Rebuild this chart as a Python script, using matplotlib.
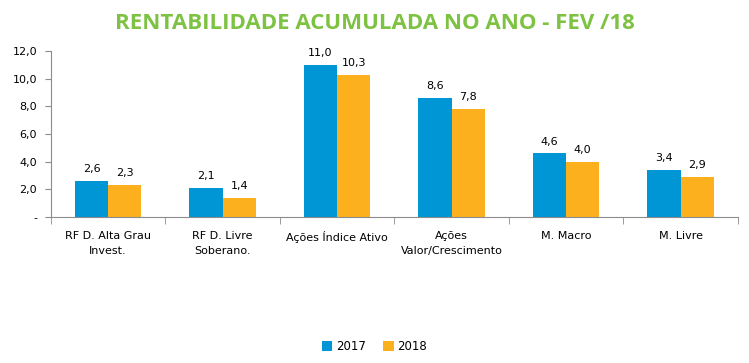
import matplotlib.pyplot as plt
import numpy as np

categorias = ['RF D. Alta Grau\nInvest.', 'RF D. Livre\nSoberano.', 'Ações Índice Ativo',
              'Ações\nValor/Crescimento', 'M. Macro', 'M. Livre']
v2017 = [2.6, 2.1, 11.0, 8.6, 4.6, 3.4]
v2018 = [2.3, 1.4, 10.3, 7.8, 4.0, 2.9]
yticks = [0, 2, 4, 6, 8, 10, 12]
ylabels = ['-', '2,0', '4,0', '6,0', '8,0', '10,0', '12,0']

azul = '#0096D6'
laranja = '#FDB01E'
cinza = '#8c8c8c'

fig = plt.figure(figsize=(7.49, 3.63), dpi=100)
ax = fig.add_axes([0.068, 0.402, 0.917, 0.457])

x = np.arange(len(categorias))
w = 0.29
ax.bar(x - w/2, v2017, w, color=azul, label='2017')
ax.bar(x + w/2, v2018, w, color=laranja, label='2018')

# rótulos de valor
for xi, a, b in zip(x, v2017, v2018):
    ax.text(xi - w/2, a + 0.5, f'{a:.1f}'.replace('.', ','), ha='center', va='bottom', fontsize=8)
    ax.text(xi + w/2, b + 0.5, f'{b:.1f}'.replace('.', ','), ha='center', va='bottom', fontsize=8)

ax.set_xlim(-0.5, len(categorias) - 0.5)
ax.set_ylim(0, 12)
ax.set_yticks(yticks)
ax.set_yticklabels(ylabels, fontsize=8)
ax.set_xticks(x)
ax.set_xticklabels(categorias, fontsize=8, linespacing=1.6)
ax.tick_params(axis='x', which='major', length=0, pad=10)
ax.set_xticks(np.arange(len(categorias) + 1) - 0.5, minor=True)
ax.tick_params(axis='x', which='minor', length=5, color=cinza)
ax.tick_params(axis='y', length=4, color=cinza, pad=6)

for s in ['top', 'right']:
    ax.spines[s].set_visible(False)
for s in ['left', 'bottom']:
    ax.spines[s].set_color(cinza)

fig.text(0.5, 0.935, 'RENTABILIDADE ACUMULADA NO ANO - FEV /18', ha='center', va='center',
         fontsize=16, fontweight='bold', color='#7DC242', family='Open Sans')

fig.legend(loc='center', bbox_to_anchor=(0.5, 0.045), ncol=2, frameon=False, fontsize=8.5,
           handlelength=0.9, handleheight=0.9, handletextpad=0.3, columnspacing=1.5)

fig.savefig('out.png', dpi=100)
